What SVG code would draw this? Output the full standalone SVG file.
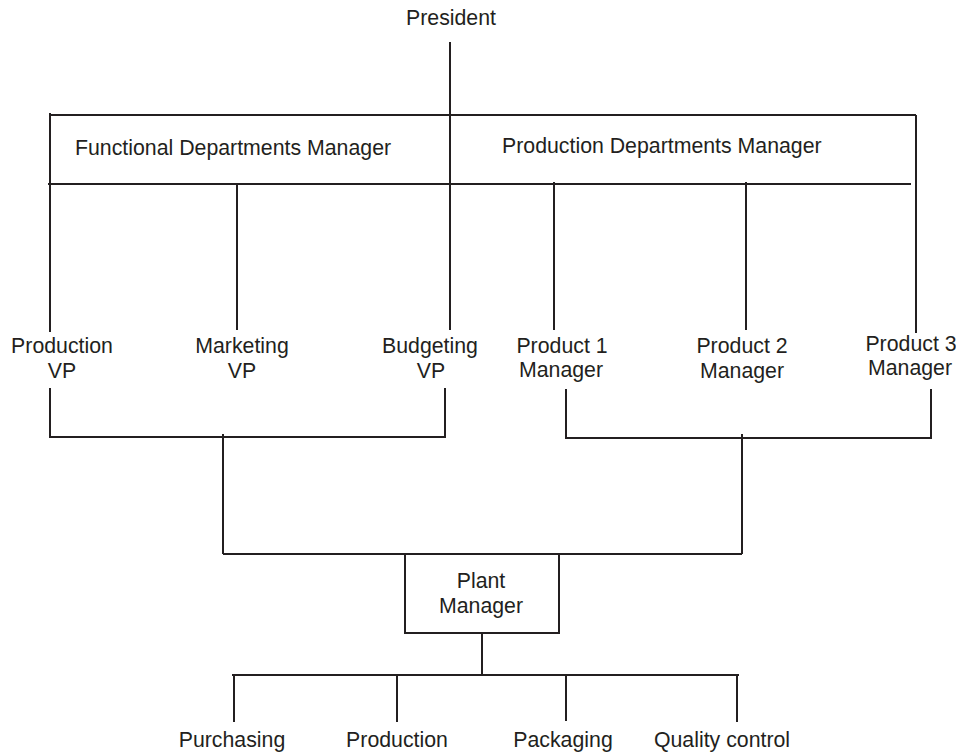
<svg xmlns="http://www.w3.org/2000/svg" width="956" height="753" viewBox="0 0 956 753">
<style>
text{font-family:"Liberation Sans",Arial,sans-serif;font-size:21.3px;fill:#231f20}
.c{text-anchor:middle}
.ln{stroke:#231f20;stroke-width:2;fill:none;stroke-linecap:butt}
</style>
<rect x="0" y="0" width="956" height="753" fill="#ffffff"/>
<g id="connectors" class="ln">
<path d="M450 42V330"/>
<path d="M50 113V332"/>
<path d="M50 115H916"/>
<path d="M48 184H911"/>
<path d="M916 115V333"/>
<path d="M237 184V330"/>
<path d="M554 182V330"/>
<path d="M746 182V330"/>
<path d="M50 388V437H445V388"/>
<path d="M566 389V438H931V389"/>
<path d="M223 434V554"/>
<path d="M742 434V554"/>
<path d="M223 554H742"/>
<path d="M482 633V675"/>
<path d="M232 675H739"/>
<path d="M234 675V722"/>
<path d="M397 675V722"/>
<path d="M566 675V721"/>
<path d="M737 675V722"/>
</g>
<g id="president"><text class="c" x="451" y="25">President</text></g>
<g id="functional-manager"><text x="75" y="155">Functional Departments Manager</text></g>
<g id="production-manager"><text x="502" y="153">Production Departments Manager</text></g>
<g id="production-vp"><text class="c" x="62" y="353">Production</text><text class="c" x="62" y="378">VP</text></g>
<g id="marketing-vp"><text class="c" x="242" y="353">Marketing</text><text class="c" x="242" y="378">VP</text></g>
<g id="budgeting-vp"><text class="c" x="430" y="353">Budgeting</text><text class="c" x="431" y="378">VP</text></g>
<g id="product1"><text class="c" x="562" y="353">Product 1</text><text class="c" x="561" y="377">Manager</text></g>
<g id="product2"><text class="c" x="742" y="353">Product 2</text><text class="c" x="742" y="378">Manager</text></g>
<g id="product3"><text class="c" x="911" y="351">Product 3</text><text class="c" x="910" y="375">Manager</text></g>
<g id="plant-manager"><rect class="ln" x="405" y="554" width="154" height="79"/><text class="c" x="481" y="588">Plant</text><text class="c" x="481" y="613">Manager</text></g>
<g id="purchasing"><text class="c" x="232" y="747">Purchasing</text></g>
<g id="production"><text class="c" x="397" y="747">Production</text></g>
<g id="packaging"><text class="c" x="563" y="747">Packaging</text></g>
<g id="quality-control"><text class="c" x="722" y="747">Quality control</text></g>
</svg>
